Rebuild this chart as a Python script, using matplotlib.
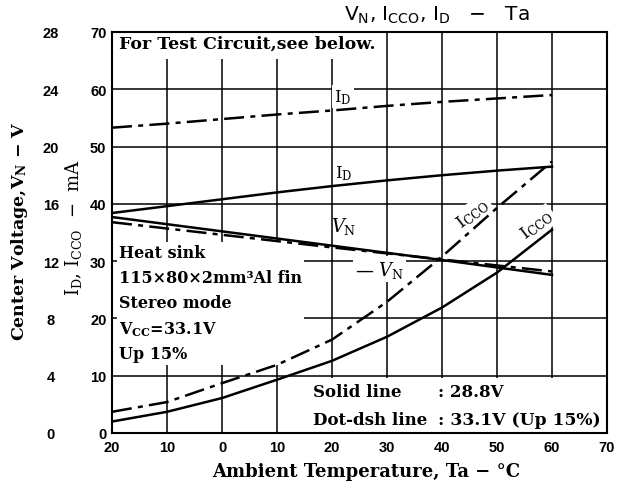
import numpy as np
import matplotlib
matplotlib.use("Agg")
import matplotlib.pyplot as plt
from matplotlib.patches import Rectangle

#DATA
temp = [-20, -10, 0, 10, 20, 30, 40, 50, 60]

id_solid = [38.4, 39.6, 40.8, 42.0, 43.1, 44.1, 45.0, 45.8, 46.5]        # mA, 28.8V
id_dash = [53.3, 54.0, 54.8, 55.6, 56.3, 57.1, 57.8, 58.4, 59.0]         # mA, 33.1V
icco_solid = [2.0, 3.7, 6.1, 9.3, 12.6, 16.8, 21.9, 28.0, 35.5]          # mA, 28.8V
icco_dash = [3.7, 5.4, 8.7, 11.9, 16.3, 22.9, 30.8, 39.3, 47.4]          # mA, 33.1V
vn_solid = [15.08, 14.58, 14.08, 13.58, 13.08, 12.58, 12.08, 11.56, 11.04]  # V, 28.8V
vn_dash = [14.72, 14.28, 13.84, 13.40, 12.96, 12.54, 12.12, 11.70, 11.28]   # V, 33.1V

x_ticks = [-20, -10, 0, 10, 20, 30, 40, 50, 60, 70]
x_labels = ["20", "10", "0", "10", "20", "30", "40", "50", "60", "70"]
ma_ticks = [0, 10, 20, 30, 40, 50, 60, 70]
v_ticks = [0, 4, 8, 12, 16, 20, 24, 28]

#STYLE
plt.rcParams["mathtext.fontset"] = "custom"
plt.rcParams["mathtext.rm"] = "DejaVu Serif"
plt.rcParams["mathtext.it"] = "DejaVu Serif:italic"
plt.rcParams["mathtext.bf"] = "DejaVu Serif:bold"
plt.rcParams["mathtext.sf"] = "DejaVu Sans"

SERIF = "DejaVu Serif"
TICKFONT = dict(family="Liberation Sans", weight="bold", size=10.5)
LW = 1.8
DASHDOT = (0, (8, 2.5, 2, 2.5))
WHITE = dict(facecolor="white", edgecolor="none", pad=1.5)

fig = plt.figure(figsize=(6.18, 4.89), dpi=100)
ax = fig.add_axes([112 / 618, 1 - 434 / 489, 495 / 618, 401 / 489])

ax.set_xlim(-20, 70)
ax.set_ylim(0, 70)
ax.set_xticks(x_ticks)
ax.set_xticklabels(x_labels, fontdict=TICKFONT)
ax.set_yticks(ma_ticks)
ax.set_yticklabels([str(t) for t in ma_ticks], fontdict=TICKFONT)
ax.tick_params(length=0)
ax.tick_params(axis="x", pad=5)
ax.tick_params(axis="y", pad=4)
ax.set_axisbelow(True)
ax.grid(True, color="black", lw=1.1)
for s in ax.spines.values():
    s.set_linewidth(1.5)

#white areas that hide the grid behind the notes
ax.add_patch(Rectangle((-20, 65.2), 49.3, 4.8, facecolor="white", edgecolor="none", zorder=1.5))
ax.add_patch(Rectangle((16, 0.2), 53.8, 9.4, facecolor="white", edgecolor="none", zorder=1.5))

#currents
ax.plot(temp, id_solid, color="black", lw=LW, zorder=3)
ax.plot(temp, id_dash, color="black", lw=LW, linestyle=DASHDOT, zorder=3)
ax.plot(temp, icco_solid, color="black", lw=LW, zorder=3)
ax.plot(temp, icco_dash, color="black", lw=LW, linestyle=DASHDOT, zorder=3)

#center voltage on its own scale
ax2 = ax.twinx()
ax2.set_ylim(0, 28)
ax2.set_yticks(v_ticks)
ax2.set_yticklabels([str(t) for t in v_ticks], fontdict=TICKFONT)
ax2.yaxis.set_ticks_position("left")
ax2.tick_params(length=0, pad=44)
for lbl in ax2.get_yticklabels():
    lbl.set_horizontalalignment("center")
for s in ax2.spines.values():
    s.set_visible(False)
ax2.plot(temp, vn_solid, color="black", lw=LW, zorder=3)
ax2.plot(temp, vn_dash, color="black", lw=LW, linestyle=DASHDOT, zorder=3)

#notes
ax.text(-18.8, 69.5, "For Test Circuit,see below.", family=SERIF, weight="bold",
        size=12.5, ha="left", va="top", zorder=2)
ax.text(-18.8, 33.0,
        "Heat sink\n115×80×2mm³Al fin\nStereo mode\nV$_\\mathbf{CC}$=33.1V\nUp 15%",
        family=SERIF, weight="bold", size=11.5, ha="left", va="top",
        linespacing=1.6, bbox=WHITE, zorder=2)
ax.text(16.6, 7.2, "Solid line", family=SERIF, weight="bold", size=12,
        ha="left", va="center", zorder=2)
ax.text(39.2, 7.2, ": 28.8V", family=SERIF, weight="bold", size=12,
        ha="left", va="center", zorder=2)
ax.text(16.6, 2.4, "Dot-dsh line", family=SERIF, weight="bold", size=12,
        ha="left", va="center", zorder=2)
ax.text(39.2, 2.4, ": 33.1V (Up 15%)", family=SERIF, weight="bold", size=12.3,
        ha="left", va="center", zorder=2)

#curve labels
ax.text(22.0, 58.8, "I$_\\mathrm{D}$", family=SERIF, size=12, ha="center",
        va="center", bbox=WHITE, zorder=2)
ax.text(22.2, 45.4, "I$_\\mathrm{D}$", family=SERIF, size=12, ha="center",
        va="center", zorder=2)
ax.text(22.2, 36.3, "$\\mathit{V}_\\mathrm{N}$", size=13, ha="center",
        va="center", zorder=2)
ax.text(28.6, 28.6, "— $\\mathit{V}_\\mathrm{N}$", size=13, ha="center",
        va="center", bbox=WHITE, zorder=2)
ax.text(45.6, 38.3, "I$_\\mathrm{CCO}$", family=SERIF, size=12.5, ha="center",
        va="center", rotation=38, bbox=WHITE, zorder=2)
ax.text(57.2, 36.4, "I$_\\mathrm{CCO}$", family=SERIF, size=12.5, ha="center",
        va="center", rotation=38, bbox=WHITE, zorder=2)

#titles
fig.text(437 / 618, 1 - 15 / 489, "V$_\\mathsf{N}$, I$_\\mathsf{CCO}$, I$_\\mathsf{D}$   −   Ta",
         family="DejaVu Sans", size=14.5, ha="center", va="center")
fig.text(366 / 618, 1 - 472 / 489, "Ambient Temperature, Ta − °C", family=SERIF,
         weight="bold", size=13, ha="center", va="center")
fig.text(20 / 618, 1 - 231 / 489, "Center Voltage,V$_\\mathbf{N}$ − V", family=SERIF,
         weight="bold", size=12.5, ha="center", va="center", rotation=90)
fig.text(73 / 618, 1 - 228 / 489, "I$_\\mathrm{D}$, I$_\\mathrm{CCO}$  −  mA", family=SERIF,
         size=13, ha="center", va="center", rotation=90)

fig.savefig("out.png", dpi=100)
